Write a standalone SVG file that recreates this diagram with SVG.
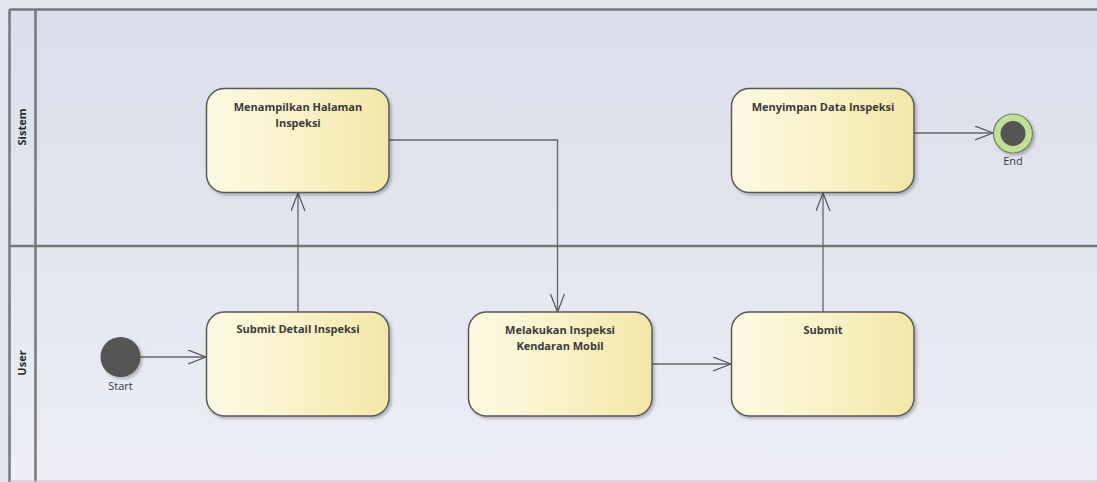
<svg xmlns="http://www.w3.org/2000/svg" width="1097" height="482" viewBox="0 0 1097 482">
<defs>
<linearGradient id="laneS" x1="0" y1="0" x2="0" y2="1"><stop offset="0" stop-color="#dcdfeb"/><stop offset="1" stop-color="#e2e5ef"/></linearGradient>
<linearGradient id="laneU" x1="0" y1="0" x2="0" y2="1"><stop offset="0" stop-color="#e3e6f0"/><stop offset="1" stop-color="#edeef5"/></linearGradient>
<linearGradient id="act" x1="0" y1="0" x2="1" y2="0"><stop offset="0" stop-color="#fdfae3"/><stop offset="0.5" stop-color="#f9f2c8"/><stop offset="1" stop-color="#f3e7a6"/></linearGradient>
<filter id="sh" x="-10%" y="-10%" width="130%" height="130%"><feDropShadow dx="2" dy="2" stdDeviation="1.5" flood-color="#000" flood-opacity="0.25"/></filter>
<marker id="arr" markerWidth="20" markerHeight="16" refX="18" refY="7" orient="auto" markerUnits="userSpaceOnUse"><path d="M0,0 L18,7 L0,14" fill="none" stroke="#555" stroke-width="1.2"/></marker>
</defs>
<style>
.act{fill:url(#act);stroke:#5a5a5a;stroke-width:1.5;filter:url(#sh)}
.t{font-family:"Open Sans","Liberation Sans",sans-serif;font-weight:bold;font-size:11px;fill:#3a3a3a;text-anchor:middle}
.lbl{font-family:"Open Sans","Liberation Sans",sans-serif;font-size:11px;fill:#3a3a3a;text-anchor:middle}
.lane{font-family:"Open Sans","Liberation Sans",sans-serif;font-weight:bold;font-size:11px;fill:#2a2a2a;text-anchor:middle}
.c{fill:none;stroke:#666;stroke-width:1.3;marker-end:url(#arr)}
.fr{fill:none;stroke:#777;stroke-width:2.5}
</style>
<rect x="0" y="0" width="1097" height="482" fill="#e4e6ef"/>
<g id="lanes">
<rect x="9.5" y="9.5" width="1090" height="236.5" fill="url(#laneS)"/>
<rect x="9.5" y="246" width="1090" height="235" fill="url(#laneU)"/>
<line x1="9.5" y1="9.5" x2="1097" y2="9.5" class="fr"/>
<line x1="9.5" y1="246" x2="1097" y2="246" class="fr"/>
<line x1="9.5" y1="9.5" x2="9.5" y2="482" class="fr"/>
<line x1="35.5" y1="9.5" x2="35.5" y2="482" class="fr"/>
<line x1="9.5" y1="481" x2="1097" y2="481" stroke="#c8cad4" stroke-width="1"/>
<text class="lane" transform="translate(26,127) rotate(-90)">Sistem</text>
<text class="lane" transform="translate(26,363) rotate(-90)">User</text>
</g>
<g id="connectors">
<line x1="140" y1="357" x2="206" y2="357" class="c"/>
<line x1="298" y1="312" x2="298" y2="193" class="c"/>
<polyline points="389,140 557.5,140 557.5,312" class="c"/>
<line x1="652" y1="364" x2="731" y2="364" class="c"/>
<line x1="823" y1="312" x2="823" y2="193" class="c"/>
<line x1="914" y1="133" x2="993" y2="133" class="c"/>
</g>
<g id="start">
<circle cx="120.5" cy="357" r="20" fill="#555" filter="url(#sh)"/>
<text class="lbl" x="120.5" y="390">Start</text>
</g>
<g id="end">
<circle cx="1013" cy="133.5" r="19.5" fill="#c3e09a" stroke="#6d8a55" stroke-width="1.2" filter="url(#sh)"/>
<circle cx="1013" cy="133.5" r="12.5" fill="#555"/>
<text class="lbl" x="1013" y="165">End</text>
</g>
<g id="menampilkan">
<rect x="206.5" y="88.5" width="182.5" height="104" rx="18" class="act"/>
<text class="t" x="298" y="111">Menampilkan Halaman</text>
<text class="t" x="298" y="127">Inspeksi</text>
</g>
<g id="submit-detail">
<rect x="206.5" y="312" width="182.5" height="104" rx="18" class="act"/>
<text class="t" x="298" y="333">Submit Detail Inspeksi</text>
</g>
<g id="melakukan">
<rect x="468.5" y="312" width="183.5" height="104" rx="18" class="act"/>
<text class="t" x="560" y="334">Melakukan Inspeksi</text>
<text class="t" x="560" y="350">Kendaran Mobil</text>
</g>
<g id="submit">
<rect x="731.5" y="312" width="182.5" height="104" rx="18" class="act"/>
<text class="t" x="823" y="334">Submit</text>
</g>
<g id="menyimpan">
<rect x="731.5" y="88.5" width="182.5" height="104" rx="18" class="act"/>
<text class="t" x="823" y="111">Menyimpan Data Inspeksi</text>
</g>
</svg>
